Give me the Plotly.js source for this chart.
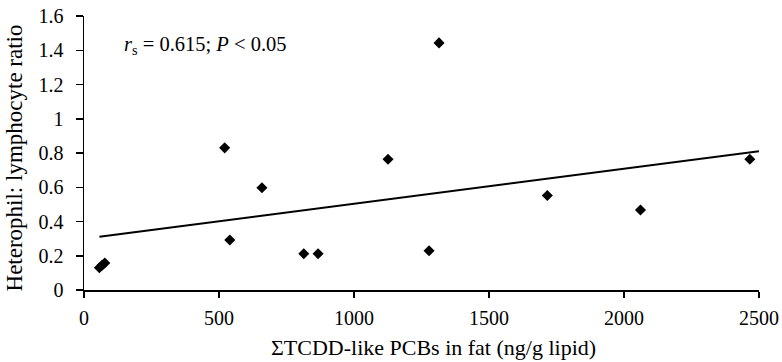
<!DOCTYPE html>
<html>
<head>
<meta charset="utf-8">
<script src="https://cdn.plot.ly/plotly-3.0.1.min.js"></script>
<style>html,body{margin:0;padding:0;background:#fff;}#chart{width:782px;height:362px;}</style>
</head>
<body>
<div id="chart"></div>
<script>
// Data
var pcbX = [57, 67, 77, 521, 540, 659, 814, 867, 1126, 1278, 1315, 1716, 2061, 2466];
var ratioY = [0.13, 0.145, 0.158, 0.83, 0.292, 0.597, 0.212, 0.212, 0.763, 0.229, 1.443, 0.552, 0.467, 0.763];
var trendX = [57, 2500];
var trendY = [0.311, 0.811];
var xTicks = [0, 500, 1000, 1500, 2000, 2500];
var yTicks = [0, 0.2, 0.4, 0.6, 0.8, 1, 1.2, 1.4, 1.6];
var xTitle = 'ΣTCDD-like PCBs in fat (ng/g lipid)';
var yTitle = 'Heterophil: lymphocyte ratio';

var font = "Liberation Serif, Times New Roman, serif";
var fs = 20;

var traces = [
  {x: pcbX, y: ratioY, type: 'scatter', mode: 'markers',
   marker: {symbol: 'diamond', size: 8.5, color: '#000'}, hoverinfo: 'skip'},
  {x: trendX, y: trendY, type: 'scatter', mode: 'lines',
   line: {color: '#000', width: 2}, hoverinfo: 'skip'}
];

var layout = {
  width: 782, height: 362,
  margin: {l: 84, r: 23, t: 16, b: 72},
  paper_bgcolor: '#fff', plot_bgcolor: '#fff',
  showlegend: false,
  font: {family: font, size: fs, color: '#000'},
  xaxis: {
    range: [0, 2500], tickvals: xTicks, ticktext: xTicks.map(String),
    showgrid: false, zeroline: false, showline: true, linecolor: '#000', linewidth: 1.5,
    ticks: 'outside', ticklen: 6, tickwidth: 1.5, tickcolor: '#000',
    ticklabelstandoff: 3,
    tickfont: {family: font, size: fs, color: '#000'}
  },
  yaxis: {
    range: [0, 1.6], tickvals: yTicks, ticktext: yTicks.map(String),
    showgrid: false, zeroline: false, showline: true, linecolor: '#000', linewidth: 1.5,
    ticks: 'outside', ticklen: 7, tickwidth: 1.5, tickcolor: '#000',
    ticklabelstandoff: 8,
    tickfont: {family: font, size: fs, color: '#000'}
  },
  annotations: [
    {xref: 'x', yref: 'y', x: 140, y: 1.43, xanchor: 'left', yanchor: 'middle',
     text: '<i>r</i><sub>s</sub> = 0.615; <i>P</i> &lt; 0.05', showarrow: false,
     font: {family: font, size: 20.5, color: '#000'}},
    {xref: 'paper', yref: 'paper', x: 0.5185, y: -0.2104, xanchor: 'center', yanchor: 'middle',
     text: xTitle, showarrow: false, font: {family: font, size: 22, color: '#000'}},
    {xref: 'paper', yref: 'paper', x: -0.1037, y: 0.48, xanchor: 'center', yanchor: 'middle',
     textangle: -90, text: yTitle, showarrow: false, font: {family: font, size: 23, color: '#000'}}
  ]
};

Plotly.newPlot('chart', traces, layout, {staticPlot: true, displayModeBar: false});
</script>
</body>
</html>
